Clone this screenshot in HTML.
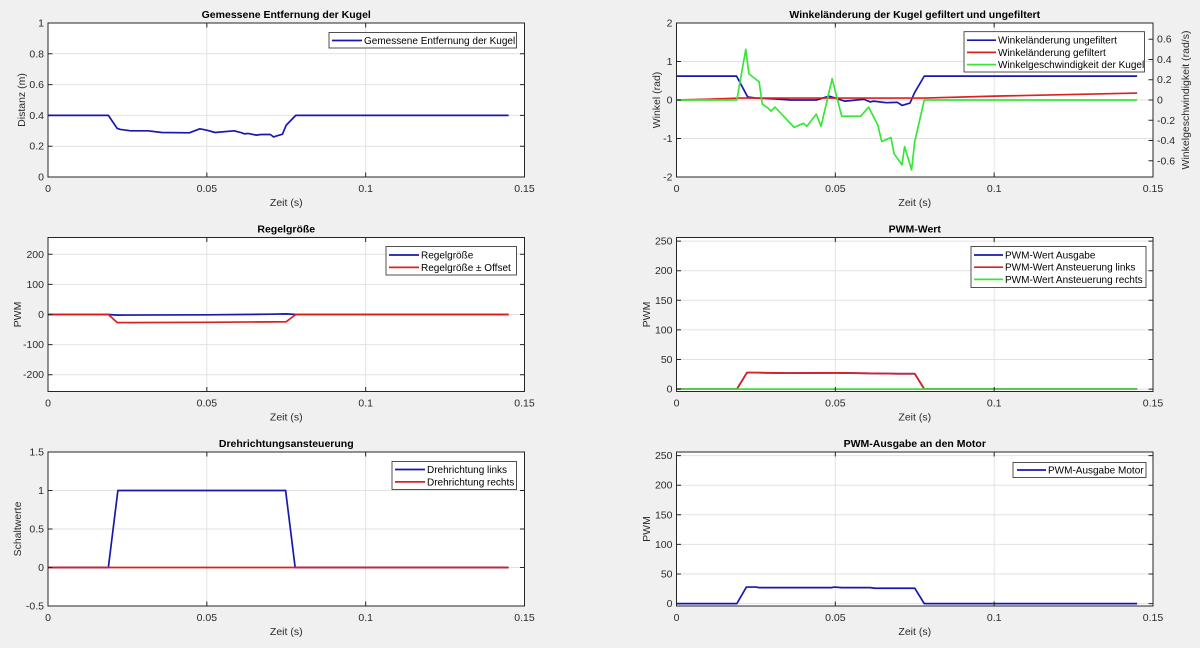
<!DOCTYPE html>
<html><head><meta charset="utf-8"><style>
html,body{margin:0;padding:0;background:#f0f0f0;}
svg{display:block;}
text{font-family:"Liberation Sans",Arial,sans-serif;fill:#2a2a2a;}
.t{font-size:10.5px;}
.tt{font-size:10.5px;font-weight:bold;fill:#000;}
.lg{font-size:10px;fill:#000;}
.gr{stroke:#e2e2e2;stroke-width:1;fill:none;}
.bx{fill:none;stroke:#262626;stroke-width:1;}
.tk{stroke:#262626;stroke-width:1;fill:none;}
.d{fill:none;stroke-width:1.7;vector-effect:non-scaling-stroke;stroke-linejoin:round;}
.b{stroke:#1818b0;}
.r{stroke:#dc2020;}
.g{stroke:#38e638;}
.lb{fill:#fff;stroke:#262626;stroke-width:0.8;}
</style></head><body>
<svg width="1200" height="648" viewBox="0 0 1200 648" xmlns="http://www.w3.org/2000/svg">
<rect x="0" y="0" width="1200" height="648" fill="#f0f0f0"/>

<!-- ===== Panel A: top-left ===== -->
<rect x="48" y="23" width="476.5" height="154" fill="#fff"/>
<path class="gr" d="M206.83,23V177M365.67,23V177M48,146.2H524.5M48,115.4H524.5M48,84.6H524.5M48,53.8H524.5"/>
<g transform="translate(48,177) scale(3.1767,-154)">
<polyline class="d b" points="0,0.4 19,0.4 21.8,0.315 22.8,0.309 26,0.30 31.5,0.30 35.8,0.289 44.5,0.287 47.8,0.313 50,0.304 52.6,0.289 58.6,0.30 61,0.287 61.8,0.28 63,0.283 65.6,0.272 67,0.276 70,0.276 71,0.26 72,0.267 73.8,0.278 75,0.337 78,0.40 145,0.40"/>
</g>
<rect class="bx" x="48" y="23" width="476.5" height="154"/>
<path class="tk" d="M206.83,177v-4.5M365.67,177v-4.5M206.83,23v4.5M365.67,23v4.5M48,146.2h4.5M48,115.4h4.5M48,84.6h4.5M48,53.8h4.5M524.5,146.2h-4.5M524.5,115.4h-4.5M524.5,84.6h-4.5M524.5,53.8h-4.5"/>
<g class="t" text-anchor="end">
<text x="44" y="180.5">0</text><text x="44" y="149.7">0.2</text><text x="44" y="118.9">0.4</text><text x="44" y="88.1">0.6</text><text x="44" y="57.3">0.8</text><text x="44" y="26.5">1</text>
</g>
<g class="t" text-anchor="middle">
<text x="48" y="192">0</text><text x="206.83" y="192">0.05</text><text x="365.67" y="192">0.1</text><text x="524.5" y="192">0.15</text>
<text x="286.25" y="206">Zeit (s)</text>
<text transform="translate(25,100) rotate(-90)">Distanz (m)</text>
</g>
<text class="tt" x="286.25" y="18" text-anchor="middle">Gemessene Entfernung der Kugel</text>
<rect class="lb" x="329" y="32.5" width="187.5" height="15.5"/>
<line x1="332" y1="40.5" x2="362" y2="40.5" class="d b"/>
<text class="lg" x="364" y="44">Gemessene Entfernung der Kugel</text>

<!-- ===== Panel B: top-right ===== -->
<rect x="676.5" y="23" width="476.5" height="154" fill="#fff"/>
<path class="gr" d="M835.33,23V177M994.17,23V177M676.5,61.5H1153M676.5,100H1153M676.5,138.5H1153"/>
<g transform="translate(676.5,100) scale(3.1767,-38.5)">
<polyline class="d b" points="0,0.62 18.9,0.62 22.4,0.08 25,0.05 31,0.03 36,0 44,0 48,0.1 50,0.05 53,-0.03 59,0.02 61,-0.05 62,-0.03 66,-0.07 69.5,-0.06 71,-0.14 73.5,-0.08 75,0.2 78,0.62 145,0.62"/>
<polyline class="d r" points="0,0 10,0.02 20,0.05 78,0.05 100,0.1 145,0.18"/>
</g>
<g transform="translate(676.5,100) scale(3.1767,-101.3)">
<polyline class="d g" points="0,0 19,0 21.8,0.50 22.8,0.258 26,0.18 27,-0.04 28.8,-0.08 29.7,-0.11 31,-0.07 37,-0.27 40,-0.23 41,-0.26 44,-0.14 45.5,-0.26 49,0.21 52,-0.16 58,-0.16 60.5,-0.07 63.4,-0.25 64.6,-0.41 67.5,-0.37 68.5,-0.53 71,-0.64 71.8,-0.46 74,-0.69 75,-0.41 78,0 145,0"/>
</g>
<rect class="bx" x="676.5" y="23" width="476.5" height="154"/>
<path class="tk" d="M835.33,177v-4.5M994.17,177v-4.5M835.33,23v4.5M994.17,23v4.5M676.5,61.5h4.5M676.5,100h4.5M676.5,138.5h4.5M1153,39.2h-4.5M1153,59.5h-4.5M1153,79.7h-4.5M1153,100h-4.5M1153,120.3h-4.5M1153,140.5h-4.5M1153,160.8h-4.5"/>
<g class="t" text-anchor="end">
<text x="672.5" y="26.5">2</text><text x="672.5" y="65">1</text><text x="672.5" y="103.5">0</text><text x="672.5" y="142">-1</text><text x="672.5" y="180.5">-2</text>
</g>
<g class="t" text-anchor="start">
<text x="1157" y="42.7">0.6</text><text x="1157" y="63">0.4</text><text x="1157" y="83.2">0.2</text><text x="1157" y="103.5">0</text><text x="1157" y="123.8">-0.2</text><text x="1157" y="144">-0.4</text><text x="1157" y="164.3">-0.6</text>
</g>
<g class="t" text-anchor="middle">
<text x="676.5" y="192">0</text><text x="835.33" y="192">0.05</text><text x="994.17" y="192">0.1</text><text x="1153" y="192">0.15</text>
<text x="914.75" y="206">Zeit (s)</text>
<text transform="translate(660,100) rotate(-90)">Winkel (rad)</text>
<text transform="translate(1189,100) rotate(-90)">Winkelgeschwindigkeit (rad/s)</text>
</g>
<text class="tt" x="914.75" y="18" text-anchor="middle">Winkeländerung der Kugel gefiltert und ungefiltert</text>
<rect class="lb" x="964" y="31.7" width="180.5" height="40.3"/>
<line x1="967" y1="40.2" x2="996" y2="40.2" class="d b"/>
<line x1="967" y1="52.4" x2="996" y2="52.4" class="d r"/>
<line x1="967" y1="64.6" x2="996" y2="64.6" class="d g"/>
<text class="lg" x="998" y="43.7">Winkeländerung ungefiltert</text>
<text class="lg" x="998" y="55.9">Winkeländerung gefiltert</text>
<text class="lg" x="998" y="68.1">Winkelgeschwindigkeit der Kugel</text>

<!-- ===== Panel C: mid-left ===== -->
<rect x="48" y="237.5" width="476.5" height="154" fill="#fff"/>
<path class="gr" d="M206.83,237.5V391.5M365.67,237.5V391.5M48,254.3H524.5M48,284.4H524.5M48,314.5H524.5M48,344.6H524.5M48,374.7H524.5"/>
<g transform="translate(48,314.5) scale(3.1767,-0.3008)">
<polyline class="d b" points="0,0 19,0 21.8,-2 50,-1 70,1 75,2 78,0 145,0"/>
<polyline class="d r" points="0,0 19,0 21.8,-27 50,-26 75,-24 78,0 145,0"/>
</g>
<rect class="bx" x="48" y="237.5" width="476.5" height="154"/>
<path class="tk" d="M206.83,391.5v-4.5M365.67,391.5v-4.5M206.83,237.5v4.5M365.67,237.5v4.5M48,254.3h4.5M48,284.4h4.5M48,314.5h4.5M48,344.6h4.5M48,374.7h4.5M524.5,254.3h-4.5M524.5,284.4h-4.5M524.5,314.5h-4.5M524.5,344.6h-4.5M524.5,374.7h-4.5"/>
<g class="t" text-anchor="end">
<text x="44" y="257.8">200</text><text x="44" y="287.9">100</text><text x="44" y="318">0</text><text x="44" y="348.1">-100</text><text x="44" y="378.2">-200</text>
</g>
<g class="t" text-anchor="middle">
<text x="48" y="406.5">0</text><text x="206.83" y="406.5">0.05</text><text x="365.67" y="406.5">0.1</text><text x="524.5" y="406.5">0.15</text>
<text x="286.25" y="420.5">Zeit (s)</text>
<text transform="translate(21,314.5) rotate(-90)">PWM</text>
</g>
<text class="tt" x="286.25" y="232.5" text-anchor="middle">Regelgröße</text>
<rect class="lb" x="386" y="246.5" width="130.5" height="28.5"/>
<line x1="389" y1="255" x2="419" y2="255" class="d b"/>
<line x1="389" y1="267.4" x2="419" y2="267.4" class="d r"/>
<text class="lg" x="421" y="258.5">Regelgröße</text>
<text class="lg" x="421" y="270.9">Regelgröße ± Offset</text>

<!-- ===== Panel D: mid-right ===== -->
<rect x="676.5" y="237.5" width="476.5" height="154" fill="#fff"/>
<path class="gr" d="M835.33,237.5V391.5M994.17,237.5V391.5M676.5,241.1H1153M676.5,270.7H1153M676.5,300.3H1153M676.5,329.9H1153M676.5,359.5H1153M676.5,389.1H1153"/>
<g transform="translate(676.5,389.13) scale(3.1767,-0.5923)">
<polyline class="d b" points="0,0 19,0 22.2,28 35,27 50,27.5 70,26 75,26 78,0 145,0"/>
<polyline class="d r" points="0,0 19,0 22.2,28 35,27 50,27.5 70,26 75,26 78,0 145,0"/>
<polyline class="d g" points="0,0 145,0"/>
</g>
<rect class="bx" x="676.5" y="237.5" width="476.5" height="154"/>
<path class="tk" d="M835.33,391.5v-4.5M994.17,391.5v-4.5M835.33,237.5v4.5M994.17,237.5v4.5M676.5,241.1h4.5M676.5,270.7h4.5M676.5,300.3h4.5M676.5,329.9h4.5M676.5,359.5h4.5M676.5,389.1h4.5M1153,241.1h-4.5M1153,270.7h-4.5M1153,300.3h-4.5M1153,329.9h-4.5M1153,359.5h-4.5M1153,389.1h-4.5"/>
<g class="t" text-anchor="end">
<text x="672.5" y="244.6">250</text><text x="672.5" y="274.2">200</text><text x="672.5" y="303.8">150</text><text x="672.5" y="333.4">100</text><text x="672.5" y="363">50</text><text x="672.5" y="392.6">0</text>
</g>
<g class="t" text-anchor="middle">
<text x="676.5" y="406.5">0</text><text x="835.33" y="406.5">0.05</text><text x="994.17" y="406.5">0.1</text><text x="1153" y="406.5">0.15</text>
<text x="914.75" y="420.5">Zeit (s)</text>
<text transform="translate(650,314.5) rotate(-90)">PWM</text>
</g>
<text class="tt" x="914.75" y="232.5" text-anchor="middle">PWM-Wert</text>
<rect class="lb" x="971" y="246.5" width="175" height="41"/>
<line x1="974" y1="255" x2="1003" y2="255" class="d b"/>
<line x1="974" y1="267.2" x2="1003" y2="267.2" class="d r"/>
<line x1="974" y1="279.4" x2="1003" y2="279.4" class="d g"/>
<text class="lg" x="1005" y="258.5">PWM-Wert Ausgabe</text>
<text class="lg" x="1005" y="270.7">PWM-Wert Ansteuerung links</text>
<text class="lg" x="1005" y="282.9">PWM-Wert Ansteuerung rechts</text>

<!-- ===== Panel E: bottom-left ===== -->
<rect x="48" y="452" width="476.5" height="154" fill="#fff"/>
<path class="gr" d="M206.83,452V606M365.67,452V606M48,490.5H524.5M48,529H524.5M48,567.5H524.5"/>
<g transform="translate(48,567.5) scale(3.1767,-77)">
<polyline class="d b" points="0,0 19,0 22,1 74.8,1 77.8,0 145,0"/>
<polyline class="d r" points="0,0 145,0"/>
</g>
<rect class="bx" x="48" y="452" width="476.5" height="154"/>
<path class="tk" d="M206.83,606v-4.5M365.67,606v-4.5M206.83,452v4.5M365.67,452v4.5M48,490.5h4.5M48,529h4.5M48,567.5h4.5M524.5,490.5h-4.5M524.5,529h-4.5M524.5,567.5h-4.5"/>
<g class="t" text-anchor="end">
<text x="44" y="455.5">1.5</text><text x="44" y="494">1</text><text x="44" y="532.5">0.5</text><text x="44" y="571">0</text><text x="44" y="609.5">-0.5</text>
</g>
<g class="t" text-anchor="middle">
<text x="48" y="621">0</text><text x="206.83" y="621">0.05</text><text x="365.67" y="621">0.1</text><text x="524.5" y="621">0.15</text>
<text x="286.25" y="635">Zeit (s)</text>
<text transform="translate(21,529) rotate(-90)">Schaltwerte</text>
</g>
<text class="tt" x="286.25" y="447" text-anchor="middle">Drehrichtungsansteuerung</text>
<rect class="lb" x="392" y="461.5" width="124.5" height="28"/>
<line x1="395" y1="469.5" x2="425" y2="469.5" class="d b"/>
<line x1="395" y1="481.9" x2="425" y2="481.9" class="d r"/>
<text class="lg" x="427" y="473">Drehrichtung links</text>
<text class="lg" x="427" y="485.4">Drehrichtung rechts</text>

<!-- ===== Panel F: bottom-right ===== -->
<rect x="676.5" y="452" width="476.5" height="154" fill="#fff"/>
<path class="gr" d="M835.33,452V606M994.17,452V606M676.5,455.6H1153M676.5,485.2H1153M676.5,514.8H1153M676.5,544.4H1153M676.5,574H1153M676.5,603.6H1153"/>
<g transform="translate(676.5,603.63) scale(3.1767,-0.5923)">
<polyline class="d b" points="0,0 19,0 22,28 25,28 26,27 49,27 49.5,28 52,27 61,27 62.5,26 75,26 78,0 145,0"/>
</g>
<rect class="bx" x="676.5" y="452" width="476.5" height="154"/>
<path class="tk" d="M835.33,606v-4.5M994.17,606v-4.5M835.33,452v4.5M994.17,452v4.5M676.5,455.6h4.5M676.5,485.2h4.5M676.5,514.8h4.5M676.5,544.4h4.5M676.5,574h4.5M676.5,603.6h4.5M1153,455.6h-4.5M1153,485.2h-4.5M1153,514.8h-4.5M1153,544.4h-4.5M1153,574h-4.5M1153,603.6h-4.5"/>
<g class="t" text-anchor="end">
<text x="672.5" y="459.1">250</text><text x="672.5" y="488.7">200</text><text x="672.5" y="518.3">150</text><text x="672.5" y="547.9">100</text><text x="672.5" y="577.5">50</text><text x="672.5" y="607.1">0</text>
</g>
<g class="t" text-anchor="middle">
<text x="676.5" y="621">0</text><text x="835.33" y="621">0.05</text><text x="994.17" y="621">0.1</text><text x="1153" y="621">0.15</text>
<text x="914.75" y="635">Zeit (s)</text>
<text transform="translate(650,529) rotate(-90)">PWM</text>
</g>
<text class="tt" x="914.75" y="447" text-anchor="middle">PWM-Ausgabe an den Motor</text>
<rect class="lb" x="1013" y="462.5" width="133" height="15"/>
<line x1="1017" y1="470" x2="1046" y2="470" class="d b"/>
<text class="lg" x="1048" y="473.5">PWM-Ausgabe Motor</text>
</svg>
</body></html>
